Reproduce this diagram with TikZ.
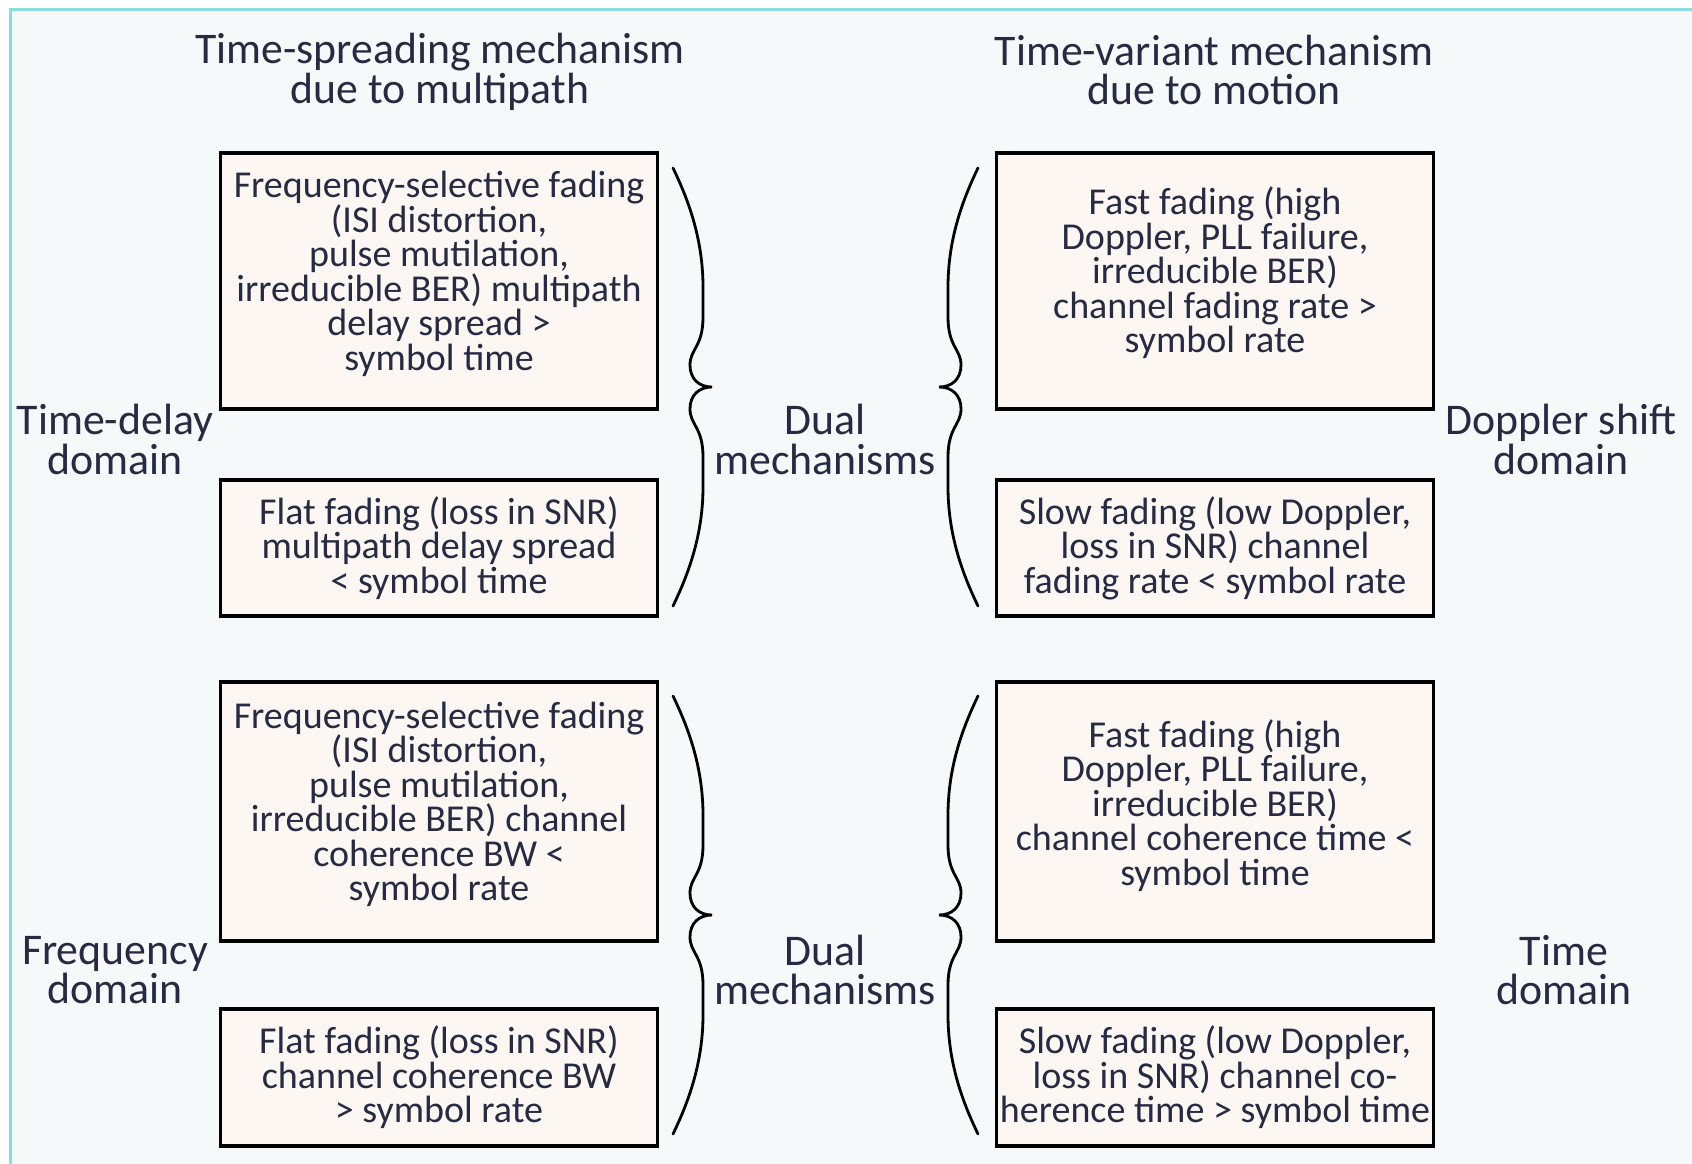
\documentclass[tikz,border=0pt]{standalone}
\usepackage{fontspec}
\setmainfont{Carlito}
\definecolor{ink}{RGB}{38,42,66}
\definecolor{panel}{RGB}{245,249,250}
\definecolor{frame}{RGB}{134,222,222}
\definecolor{boxfill}{RGB}{252,247,242}
% keep a fixed distance between baselines, however tall the letters
\newcommand\fixedleading{\lineskiplimit=-100pt\relax}
% centred lines set a little above the middle of their box (size unchanged)
\newcommand\liftedlines[2]{\raisebox{#1}[\height][\depth]{\parbox{430pt}{\centering #2}}}
\begin{document}
\begin{tikzpicture}[x=1pt,y=-1pt,
  every node/.style={text=ink, align=center, inner sep=0pt},
  cell/.style={draw=black, line width=3.6pt, fill=boxfill, minimum width=437pt,
    font=\fontsize{38}{34.5}\selectfont\fixedleading},
  side/.style={font=\fontsize{43.8}{40}\selectfont\fixedleading},
  sidetight/.style={font=\fontsize{43.8}{39.5}\selectfont\fixedleading},
  head/.style={font=\fontsize{43.7}{39.5}\selectfont\fixedleading},
  bracestroke/.style={draw=black, line width=2.8pt, line cap=round},
  rbrace/.pic={
    \path[bracestroke] (0,-219) .. controls (14,-190) and (30,-150) .. (30,-100)
      -- (30,-70) .. controls (30,-40) and (17,-38) .. (17,-22)
      .. controls (17,-8) and (26,0) .. (39,0)
      .. controls (26,0) and (17,8) .. (17,22)
      .. controls (17,38) and (30,40) .. (30,70)
      -- (30,100) .. controls (30,150) and (14,190) .. (0,219);
  },
]
\useasboundingbox (0,0) rectangle (1692,1163);
\clip (0,0) rectangle (1692,1163);
% page background and frame
\fill[white] (0,0) rectangle (1692,1163);
\filldraw[fill=panel, draw=frame, line width=3pt] (10.5,9.5) rectangle (1710,1180);

% column headings
\node[head] (h1) at (440,72) {Time-spreading mechanism\\due to multipath};
\node[head] (h2) at (1214,70) {Time-variant mechanism\\due to motion};

% left column: multipath effects
\node[cell, minimum height=256pt] (a) at (439,281) {\liftedlines{7pt}{Frequency-selective fading\\(ISI distortion,\\pulse mutilation,\\irreducible BER) multipath\\delay spread >\\symbol time}};
\node[cell, minimum height=136pt] (b) at (439,548) {Flat fading (loss in SNR)\\multipath delay spread\\< symbol time};
\node[cell, minimum height=259pt] (c) at (439,811.5) {\liftedlines{7pt}{Frequency-selective fading\\(ISI distortion,\\pulse mutilation,\\irreducible BER) channel\\coherence BW <\\symbol rate}};
\node[cell, minimum height=137pt] (d) at (439,1077.5) {Flat fading (loss in SNR)\\channel coherence BW\\> symbol rate};

% right column: motion effects
\node[cell, minimum height=256pt] (e) at (1215,281) {\liftedlines{8pt}{Fast fading (high\\Doppler, PLL failure,\\irreducible BER)\\channel fading rate >\\symbol rate}};
\node[cell, minimum height=136pt] (f) at (1215,548) {Slow fading (low Doppler,\\loss in SNR) channel\\fading rate < symbol rate};
\node[cell, minimum height=259pt] (g) at (1215,811.5) {\liftedlines{6pt}{Fast fading (high\\Doppler, PLL failure,\\irreducible BER)\\channel coherence time <\\symbol time}};
\node[cell, minimum height=137pt] (h) at (1215,1077.5) {Slow fading (low Doppler,\\loss in SNR) channel co-\\herence time > symbol time};

% domain labels
\node[side] (td) at (115,439) {Time-delay\\domain};
\node[side] (ds) at (1561,439) {Doppler shift\\domain};
\node[sidetight] (fd) at (115,970) {Frequency\\domain};
\node[sidetight] (tm) at (1564,970) {Time\\domain};
\node[side] (m1) at (825,439) {Dual\\mechanisms};
\node[sidetight] (m2) at (825,970) {Dual\\mechanisms};

% braces grouping each pair of boxes
\path (673,387) pic {rbrace};
\path (673,915) pic {rbrace};
\path (978,387) pic[xscale=-1] {rbrace};
\path (978,915) pic[xscale=-1] {rbrace};
\end{tikzpicture}
\end{document}
